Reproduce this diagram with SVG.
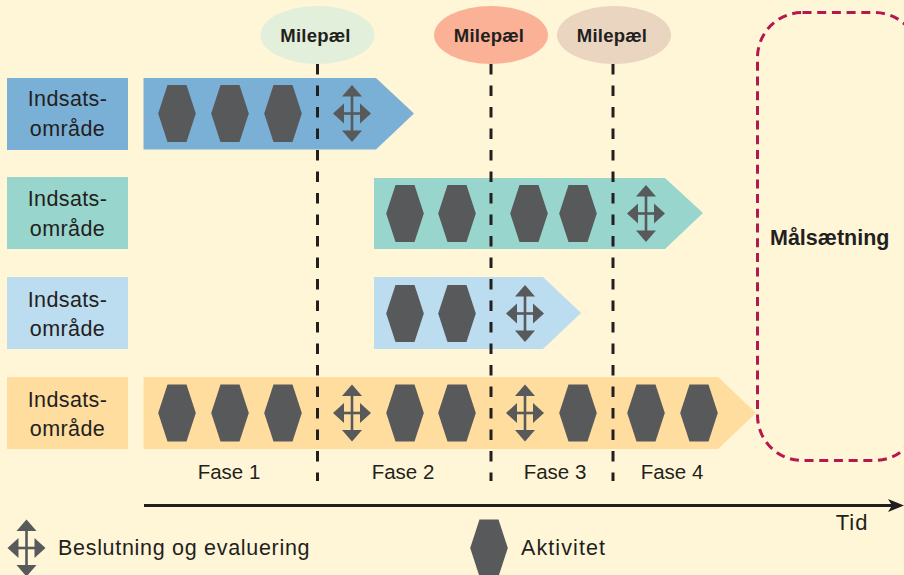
<svg xmlns="http://www.w3.org/2000/svg" width="904" height="575" viewBox="0 0 904 575">
<style>
text{font-family:"Liberation Sans",Arial,sans-serif;fill:#231f20;font-size:21px}
.c{text-anchor:middle}
.l{font-size:21.5px;letter-spacing:.4px}
.f{font-size:20.5px}
.ms{font-size:18.5px;font-weight:bold;text-anchor:middle;letter-spacing:.2px}
.dash{stroke:#231f20;stroke-width:3;stroke-dasharray:10.5 11;fill:none}
</style>
<defs>
<polygon id="hex" points="-9.5,-28.5 9.5,-28.5 18.8,0 9.5,28.5 -9.5,28.5 -18.8,0" fill="#58595b"/>
<g id="cross" fill="#58595b">
<polygon points="0,-28.5 10,-17 -10,-17"/><polygon points="0,28.5 10,17 -10,17"/>
<polygon points="-19,0 -8,-10 -8,10"/><polygon points="19,0 8,-10 8,10"/>
<rect x="-1.3" y="-18" width="2.6" height="36"/><rect x="-10" y="-1.3" width="20" height="2.6"/>
</g>
</defs>
<rect width="904" height="575" fill="#fff6d7"/>
<g id="goal"><rect x="757.5" y="12.5" width="162" height="448" rx="45" fill="none" stroke="#b5174f" stroke-width="3" stroke-dasharray="9 5.7"/>
<text x="770" y="245" style="font-size:21.5px;font-weight:bold">Målsætning</text></g>
<g id="area1"><rect x="7" y="78" width="121" height="72" fill="#7ab0d6"/><text class="c l" x="67.5" y="106">Indsats-</text><text class="c l" x="67.5" y="136">område</text></g>
<g id="area2"><rect x="7" y="177" width="121" height="72" fill="#98d5cd"/><text class="c l" x="67.5" y="206">Indsats-</text><text class="c l" x="67.5" y="236">område</text></g>
<g id="area3"><rect x="7" y="277" width="121" height="72" fill="#bcdcf0"/><text class="c l" x="67.5" y="307">Indsats-</text><text class="c l" x="67.5" y="336">område</text></g>
<g id="area4"><rect x="7" y="377" width="121" height="72" fill="#fedd9f"/><text class="c l" x="67.5" y="407">Indsats-</text><text class="c l" x="67.5" y="436">område</text></g>
<g id="bar1"><polygon points="143.5,78 376,78 414,113.5 376,149.5 143.5,149.5" fill="#7ab0d6"/>
<use href="#hex" x="177" y="113.5"/><use href="#hex" x="230" y="113.5"/><use href="#hex" x="283" y="113.5"/><use href="#cross" x="352" y="113.5"/></g>
<g id="bar2"><polygon points="374,178 665,178 703,213 665,249 374,249" fill="#98d5cd"/>
<use href="#hex" x="405" y="213.5"/><use href="#hex" x="457" y="213.5"/><use href="#hex" x="529" y="213.5"/><use href="#hex" x="578" y="213.5"/><use href="#cross" x="646" y="213.5"/></g>
<g id="bar3"><polygon points="374,277 543,277 581,313 543,349 374,349" fill="#bcdcf0"/>
<use href="#hex" x="405" y="313.5"/><use href="#hex" x="457" y="313.5"/><use href="#cross" x="525" y="313.5"/></g>
<g id="bar4"><polygon points="143.5,377 718,377 756,413 718,449 143.5,449" fill="#fedd9f"/>
<use href="#hex" x="177" y="413"/><use href="#hex" x="230" y="413"/><use href="#hex" x="283" y="413"/><use href="#cross" x="352" y="413"/><use href="#hex" x="405" y="413"/><use href="#hex" x="457" y="413"/><use href="#cross" x="525" y="413"/><use href="#hex" x="578" y="413"/><use href="#hex" x="646" y="413"/><use href="#hex" x="699" y="413"/></g>
<g id="connectors">
<line class="dash" x1="317.5" y1="64" x2="317.5" y2="481"/>
<line class="dash" x1="491" y1="64" x2="491" y2="481"/>
<line class="dash" x1="613" y1="64" x2="613" y2="481"/>
<line x1="144" y1="505.5" x2="895" y2="505.5" stroke="#231f20" stroke-width="3"/>
<polygon points="888,499 904,505.5 888,512 892,505.5" fill="#231f20"/>
</g>
<g id="milestone1"><ellipse cx="317.5" cy="35" rx="57" ry="29" fill="#e2efda"/><text class="ms" x="315.5" y="42">Milepæl</text></g>
<g id="milestone2"><ellipse cx="491" cy="35" rx="57" ry="29" fill="#fbb196"/><text class="ms" x="489" y="42">Milepæl</text></g>
<g id="milestone3"><ellipse cx="614" cy="35" rx="57" ry="29" fill="#ead5c0"/><text class="ms" x="612" y="42">Milepæl</text></g>
<g id="phases"><text class="c f" x="229" y="479">Fase 1</text><text class="c f" x="403" y="479">Fase 2</text><text class="c f" x="555" y="479">Fase 3</text><text class="c f" x="672" y="479">Fase 4</text></g>
<text class="c" x="852" y="530" style="font-size:22px;letter-spacing:1px">Tid</text>
<g id="legend-decision"><use href="#cross" x="26.5" y="548"/><text x="58" y="555" style="font-size:21.5px;letter-spacing:.7px">Beslutning og evaluering</text></g>
<g id="legend-activity"><use href="#hex" x="489" y="548"/><text x="521" y="555" style="font-size:21.5px;letter-spacing:1.1px">Aktivitet</text></g>
</svg>
